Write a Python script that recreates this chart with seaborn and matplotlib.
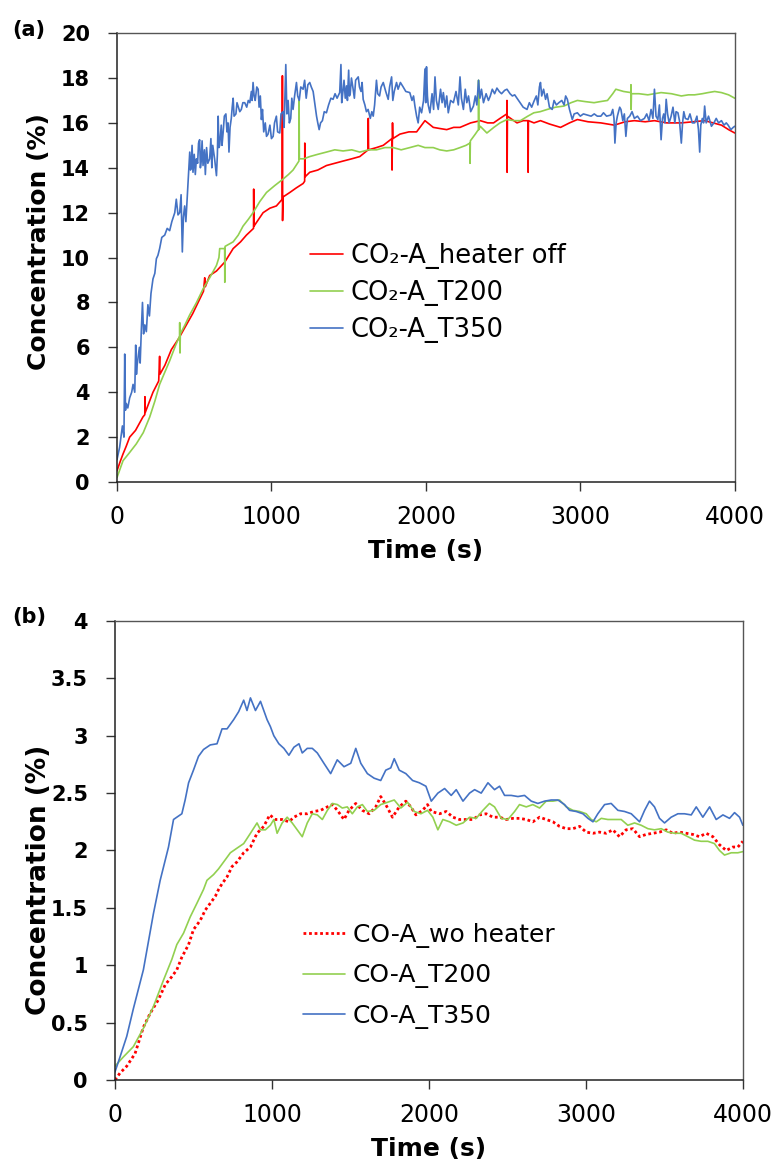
import numpy as np
import pandas as pd
import matplotlib
matplotlib.use("Agg")
import matplotlib.pyplot as plt
from matplotlib.ticker import FuncFormatter
import seaborn as sns

# ---- panel (a): CO2 concentration ----
co2_off_t = [0, 20, 39, 60, 82, 120, 168, 180, 181, 183, 233, 270, 276, 278, 310, 352, 400, 449, 490, 525,
             560, 568, 572, 600, 644, 698, 752, 800, 838, 884, 885, 887, 946, 990, 1032, 1070, 1071, 1072, 1075,
             1119, 1160, 1205, 1215, 1216, 1218, 1248, 1300, 1356, 1410, 1464, 1520, 1572, 1626, 1627, 1629,
             1680, 1724, 1780, 1781, 1783, 1784, 1786, 1832, 1890, 1940, 1994, 2048, 2090, 2135, 2180, 2221,
             2290, 2352, 2400, 2438, 2480, 2524, 2525, 2526, 2528, 2590, 2630, 2661, 2662, 2664, 2700, 2742,
             2800, 2872, 2930, 2981, 3050, 3133, 3220, 3290, 3350, 3420, 3480, 3560, 3654, 3730, 3805, 3860,
             3914, 3960, 4000]
co2_off_v = [0.5, 0.9, 1.25, 1.6, 2.0, 2.3, 2.9, 3.0, 3.8, 3.1, 4.0, 4.5, 5.6, 4.8, 5.2, 5.9, 6.4, 7.0, 7.5, 8.0,
             8.5, 9.1, 8.7, 9.2, 9.4, 9.8, 10.4, 10.7, 11.0, 11.3, 13.05, 11.4, 12.0, 12.2, 12.3, 12.6, 18.1, 11.65, 12.7,
             12.9, 13.1, 13.3, 13.4, 15.1, 13.6, 13.8, 13.9, 14.1, 14.2, 14.3, 14.4, 14.5, 14.8, 16.2, 14.8,
             14.9, 15.0, 15.3, 13.9, 15.3, 16.0, 15.3, 15.5, 15.6, 15.6, 16.1, 15.8, 15.75, 15.7, 15.8, 15.8,
             16.0, 16.1, 16.0, 16.0, 16.2, 16.4, 17.0, 13.8, 16.3, 16.0, 16.1, 16.1, 13.8, 16.1, 16.0, 16.1,
             15.95, 15.8, 16.0, 16.15, 16.05, 16.0, 15.9, 16.05, 16.1, 16.05, 16.1, 16.0, 16.0, 16.05, 16.1, 16.0,
             15.9, 15.7, 15.55]

co2_t200_t = [0, 39, 80, 125, 170, 212, 245, 276, 310, 341, 380, 405, 406, 408, 410, 440, 471, 515, 557, 600,
              644, 660, 665, 697, 698, 700, 752, 785, 816, 850, 881, 925, 968, 1020, 1076, 1110, 1140, 1178, 1179,
              1181, 1210, 1248, 1300, 1356, 1410, 1464, 1520, 1572, 1630, 1680, 1735, 1788, 1840, 1896, 1950,
              1994, 2048, 2090, 2135, 2180, 2221, 2260, 2285, 2286, 2288, 2320, 2340, 2341, 2343, 2352, 2395,
              2440, 2480, 2525, 2570, 2612, 2660, 2699, 2740, 2786, 2840, 2894, 2940, 2981, 3030, 3089, 3130,
              3176, 3210, 3230, 3280, 3327, 3328, 3329, 3331, 3380, 3437, 3480, 3523, 3590, 3654, 3700, 3740,
              3790, 3827, 3870, 3914, 3960, 4000]
co2_t200_v = [0.2, 0.95, 1.3, 1.7, 2.2, 2.9, 3.6, 4.35, 4.9, 5.4, 6.1, 6.5, 7.1, 5.75, 6.6, 7.0, 7.45, 8.0, 8.6, 9.1,
              9.65, 10.0, 10.4, 10.4, 8.9, 10.5, 10.7, 11.0, 11.4, 11.7, 12.0, 12.5, 12.9, 13.2, 13.5, 13.7, 13.9, 14.3, 17.0,
              14.4, 14.4, 14.5, 14.6, 14.7, 14.8, 14.75, 14.8, 14.7, 14.8, 14.8, 14.9, 14.9, 14.8, 14.9, 15.0,
              14.9, 14.9, 14.8, 14.75, 14.8, 14.9, 15.0, 15.1, 14.2, 15.2, 15.5, 15.7, 17.9, 15.7, 15.85, 15.55,
              15.8, 16.0, 16.15, 16.1, 16.1, 16.3, 16.45, 16.5, 16.6, 16.7, 16.75, 16.9, 17.0, 16.95, 16.9, 16.95,
              17.0, 17.3, 17.5, 17.4, 17.35, 17.7, 16.6, 17.3, 17.3, 17.25, 17.3, 17.35, 17.3, 17.2, 17.25, 17.25,
              17.3, 17.35, 17.4, 17.35, 17.25, 17.1]

# (time, value) pairs for the noisy T350 trace
co2_t350 = [
    (0, 1.0), (17, 1.55), (35, 2.5), (45, 2.0), (50, 5.7), (55, 3.2), (60, 3.5), (70, 3.3), (82, 3.75),
    (95, 4.0), (104, 4.35), (115, 4.0), (121, 6.1), (126, 4.8), (130, 5.2), (145, 6.0), (150, 5.3),
    (158, 6.85), (165, 8.0), (172, 6.6), (180, 7.0), (190, 6.7), (200, 7.9), (210, 7.4), (220, 8.4),
    (233, 9.05), (245, 9.3), (255, 9.95), (265, 10.1), (276, 10.4), (290, 10.9), (309, 11.0), (325, 11.3),
    (341, 11.2), (355, 11.6), (374, 12.0), (384, 12.6), (395, 11.9), (406, 12.0), (415, 12.8), (423, 10.25),
    (430, 11.8), (438, 12.3), (446, 11.6), (454, 12.6), (462, 13.6), (471, 14.7), (476, 13.9), (480, 14.0),
    (486, 15.0), (492, 13.8), (500, 14.6), (507, 13.7), (514, 14.4), (522, 14.2), (528, 15.1), (535, 15.25),
    (540, 14.0), (545, 14.3), (551, 15.2), (557, 14.1), (566, 14.8), (572, 13.7), (580, 14.9), (588, 14.2),
    (600, 14.4), (608, 15.3), (614, 14.0), (620, 15.0), (632, 14.4), (644, 13.65), (650, 14.6), (655, 16.3),
    (660, 14.9), (665, 15.0), (675, 15.9), (680, 15.0), (687, 15.55), (695, 16.3), (705, 16.4), (712, 15.6),
    (719, 16.0), (725, 14.7), (732, 15.8), (740, 16.2), (746, 16.7), (752, 17.1), (758, 16.3), (770, 16.4),
    (777, 16.9), (784, 16.75), (795, 16.5), (805, 16.6), (815, 16.9), (827, 16.9), (840, 16.7), (850, 17.0),
    (860, 16.9), (870, 17.4), (875, 17.0), (881, 17.8), (888, 17.2), (895, 17.0), (905, 17.6), (914, 17.5),
    (920, 16.7), (928, 17.2), (935, 16.15), (942, 16.6), (950, 15.6), (960, 16.0), (968, 15.4), (978, 15.5),
    (990, 15.9), (1000, 15.3), (1011, 15.4), (1020, 16.0), (1032, 16.3), (1040, 15.6), (1054, 15.55),
    (1062, 16.4), (1075, 16.5), (1082, 15.8), (1093, 18.6), (1100, 16.4), (1108, 17.0), (1116, 16.0),
    (1125, 16.2), (1132, 17.1), (1140, 16.6), (1150, 17.2), (1162, 17.8), (1170, 17.2), (1180, 17.0),
    (1190, 17.6), (1205, 17.5), (1215, 17.9), (1225, 17.1), (1236, 17.7), (1248, 17.8), (1258, 17.6),
    (1270, 17.4), (1280, 16.9), (1292, 16.3), (1300, 16.0), (1309, 15.7), (1318, 16.0), (1330, 16.1),
    (1342, 16.5), (1356, 16.45), (1370, 16.8), (1385, 17.1), (1399, 17.05), (1412, 17.3), (1425, 17.1),
    (1442, 17.35), (1450, 18.6), (1455, 16.9), (1460, 17.2), (1470, 17.9), (1478, 17.1), (1486, 17.65),
    (1492, 17.0), (1500, 18.35), (1505, 17.2), (1510, 17.3), (1518, 18.0), (1529, 17.5), (1537, 17.1),
    (1545, 17.9), (1562, 18.05), (1570, 17.6), (1580, 17.4), (1587, 17.8), (1594, 17.05), (1605, 16.8),
    (1615, 16.5), (1626, 16.6), (1640, 16.2), (1650, 16.5), (1659, 16.3), (1668, 16.8), (1680, 17.9),
    (1688, 17.3), (1700, 17.2), (1710, 17.6), (1724, 17.8), (1740, 17.4), (1756, 17.05), (1765, 17.6),
    (1778, 18.05), (1786, 17.0), (1795, 17.4), (1810, 17.8), (1820, 17.5), (1835, 17.8), (1853, 17.6),
    (1870, 17.4), (1896, 17.35), (1910, 17.0), (1920, 17.2), (1929, 16.75), (1940, 16.3), (1950, 16.0),
    (1960, 16.7), (1972, 16.45), (1985, 17.0), (1994, 18.4), (1999, 16.9), (2004, 18.5), (2010, 17.2),
    (2015, 16.8), (2026, 16.45), (2040, 17.3), (2050, 16.6), (2059, 18.05), (2068, 17.0), (2080, 16.6),
    (2095, 17.5), (2105, 16.9), (2113, 17.35), (2125, 16.7), (2135, 17.2), (2145, 16.45), (2160, 17.0),
    (2178, 16.9), (2195, 17.4), (2210, 16.8), (2221, 18.05), (2230, 17.1), (2243, 16.6), (2255, 17.5),
    (2265, 16.9), (2276, 17.2), (2290, 16.5), (2308, 16.75), (2320, 17.2), (2330, 16.8), (2341, 17.9),
    (2350, 17.1), (2360, 17.5), (2373, 16.9), (2390, 17.3), (2405, 17.0), (2417, 17.2), (2430, 17.5),
    (2445, 17.3), (2460, 17.55), (2475, 17.4), (2490, 17.3), (2510, 17.45), (2525, 17.5), (2545, 17.3),
    (2560, 17.2), (2575, 17.25), (2590, 17.1), (2610, 16.9), (2630, 16.7), (2655, 16.6), (2670, 16.9),
    (2685, 16.7), (2699, 16.95), (2715, 17.2), (2725, 16.8), (2735, 17.6), (2742, 17.8), (2750, 17.2),
    (2762, 17.5), (2775, 17.05), (2785, 17.3), (2800, 16.7), (2818, 16.6), (2830, 17.0), (2845, 16.8),
    (2861, 16.9), (2880, 17.0), (2895, 16.8), (2905, 17.2), (2916, 17.05), (2930, 16.6), (2948, 16.15),
    (2960, 16.4), (2981, 16.45), (3000, 16.3), (3020, 16.4), (3046, 16.35), (3070, 16.3), (3090, 16.4),
    (3110, 16.3), (3133, 16.3), (3150, 16.45), (3170, 16.3), (3198, 16.35), (3210, 16.6), (3218, 16.2),
    (3224, 15.1), (3232, 16.0), (3240, 16.3), (3255, 16.7), (3263, 16.6), (3275, 16.1), (3285, 16.4),
    (3295, 15.4), (3305, 16.2), (3320, 16.3), (3335, 16.5), (3350, 16.2), (3370, 16.3), (3390, 16.1),
    (3415, 16.2), (3430, 16.4), (3445, 16.1), (3458, 16.6), (3470, 16.2), (3480, 17.5), (3490, 16.3),
    (3502, 16.15), (3512, 16.8), (3523, 15.25), (3532, 16.2), (3540, 16.4), (3548, 16.0), (3556, 17.05),
    (3565, 16.4), (3575, 16.0), (3588, 16.3), (3600, 16.7), (3612, 16.0), (3620, 16.5), (3632, 16.45),
    (3642, 16.1), (3654, 15.1), (3662, 16.0), (3670, 16.5), (3680, 16.2), (3697, 16.15), (3710, 16.4),
    (3725, 16.0), (3740, 16.0), (3755, 16.3), (3765, 15.7), (3773, 14.7), (3780, 15.9), (3790, 16.2),
    (3798, 16.0), (3805, 16.75), (3815, 16.0), (3830, 16.3), (3849, 15.85), (3865, 16.0), (3880, 16.2),
    (3895, 16.0), (3914, 16.1), (3930, 15.9), (3945, 16.0), (3957, 15.9), (3975, 15.7), (3990, 15.8),
    (4000, 15.85),
]
co2_t350_t = [p[0] for p in co2_t350]
co2_t350_v = [p[1] for p in co2_t350]

# ---- panel (b): CO concentration ----
co_wo_t = [0, 32, 75, 128, 181, 224, 277, 320, 362, 394, 426, 469, 500, 543, 575, 607, 639, 660, 682, 714,
           746, 777, 820, 863, 905, 948, 986, 1022, 1065, 1108, 1140, 1182, 1225, 1267, 1310, 1353, 1385, 1417,
           1459, 1491, 1534, 1576, 1619, 1661, 1693, 1725, 1768, 1811, 1853, 1885, 1917, 1960, 1991, 2015, 2068,
           2110, 2153, 2195, 2238, 2280, 2323, 2365, 2408, 2450, 2493, 2535, 2577, 2620, 2662, 2705, 2747, 2790,
           2832, 2875, 2917, 2960, 3002, 3045, 3087, 3129, 3172, 3214, 3256, 3299, 3342, 3384, 3427, 3469, 3512,
           3554, 3596, 3639, 3681, 3724, 3766, 3809, 3851, 3894, 3936, 3968, 4000]
co_wo_v = [0.0, 0.06, 0.12, 0.23, 0.46, 0.58, 0.70, 0.83, 0.90, 0.96, 1.07, 1.18, 1.31, 1.39, 1.48, 1.54, 1.60, 1.66, 1.71, 1.77,
           1.86, 1.90, 1.98, 2.03, 2.15, 2.21, 2.31, 2.27, 2.27, 2.25, 2.29, 2.32, 2.32, 2.34, 2.35, 2.38, 2.40, 2.35,
           2.27, 2.35, 2.41, 2.35, 2.32, 2.38, 2.47, 2.40, 2.29, 2.38, 2.43, 2.38, 2.31, 2.35, 2.40, 2.34, 2.32,
           2.34, 2.29, 2.27, 2.27, 2.27, 2.31, 2.32, 2.29, 2.29, 2.27, 2.28, 2.28, 2.27, 2.25, 2.29, 2.27, 2.25,
           2.21, 2.19, 2.19, 2.21, 2.16, 2.15, 2.16, 2.15, 2.18, 2.12, 2.18, 2.19, 2.12, 2.14, 2.15, 2.16, 2.18,
           2.15, 2.16, 2.15, 2.14, 2.12, 2.15, 2.12, 2.05, 2.00, 2.03, 2.03, 2.08]

co_t200_t = [0, 53, 117, 181, 245, 309, 362, 394, 437, 479, 522, 564, 586, 628, 660, 703, 735, 777, 820, 863,
             905, 927, 958, 990, 1012, 1033, 1065, 1097, 1129, 1161, 1193, 1225, 1257, 1289, 1321, 1353, 1385,
             1417, 1448, 1480, 1512, 1544, 1576, 1608, 1651, 1693, 1736, 1779, 1821, 1864, 1906, 1949, 1991,
             2025, 2057, 2089, 2132, 2174, 2217, 2259, 2301, 2344, 2386, 2418, 2461, 2503, 2546, 2577, 2620,
             2662, 2705, 2747, 2790, 2832, 2875, 2917, 2960, 3002, 3034, 3066, 3098, 3140, 3183, 3225, 3267,
             3310, 3352, 3395, 3437, 3480, 3522, 3565, 3607, 3650, 3692, 3734, 3777, 3819, 3851, 3883, 3926,
             3968, 4000]
co_t200_v = [0.12, 0.20, 0.29, 0.45, 0.64, 0.87, 1.05, 1.18, 1.28, 1.42, 1.54, 1.66, 1.74, 1.79, 1.84, 1.92, 1.98, 2.02, 2.06, 2.15,
             2.24, 2.18, 2.18, 2.22, 2.27, 2.15, 2.24, 2.29, 2.24, 2.18, 2.12, 2.24, 2.32, 2.31, 2.27, 2.35, 2.41,
             2.40, 2.37, 2.38, 2.32, 2.38, 2.40, 2.34, 2.35, 2.40, 2.42, 2.44, 2.37, 2.42, 2.34, 2.32, 2.35,
             2.29, 2.18, 2.27, 2.25, 2.22, 2.24, 2.29, 2.28, 2.35, 2.41, 2.38, 2.28, 2.27, 2.34, 2.40, 2.38,
             2.40, 2.37, 2.43, 2.43, 2.44, 2.38, 2.35, 2.34, 2.32, 2.27, 2.25, 2.28, 2.27, 2.27, 2.27, 2.22,
             2.24, 2.22, 2.19, 2.18, 2.19, 2.16, 2.15, 2.15, 2.12, 2.09, 2.08, 2.08, 2.06, 2.00, 1.96, 1.98,
             1.98, 1.99]

co_t350_t = [0, 32, 75, 117, 181, 245, 288, 341, 373, 394, 426, 447, 469, 500, 532, 564, 607, 650, 682, 714,
             756, 788, 820, 841, 863, 895, 927, 948, 969, 990, 1012, 1044, 1076, 1108, 1140, 1172, 1193, 1225,
             1257, 1289, 1331, 1374, 1416, 1459, 1502, 1534, 1566, 1608, 1651, 1693, 1725, 1757, 1779, 1811,
             1853, 1896, 1939, 1981, 2015, 2057, 2100, 2142, 2174, 2217, 2259, 2291, 2333, 2376, 2418, 2450,
             2482, 2524, 2567, 2609, 2652, 2694, 2737, 2779, 2822, 2864, 2896, 2938, 2981, 3013, 3045, 3076,
             3119, 3161, 3204, 3246, 3289, 3342, 3374, 3405, 3437, 3469, 3501, 3543, 3586, 3628, 3671, 3703,
             3745, 3788, 3830, 3873, 3915, 3947, 3979, 4000]
co_t350_v = [0.07, 0.20, 0.38, 0.62, 0.96, 1.45, 1.74, 2.03, 2.27, 2.29, 2.32, 2.44, 2.59, 2.70, 2.82, 2.88, 2.92, 2.93, 3.06, 3.06,
             3.14, 3.21, 3.31, 3.22, 3.33, 3.22, 3.30, 3.22, 3.14, 3.08, 3.00, 2.93, 2.89, 2.83, 2.90, 2.93, 2.85, 2.89,
             2.89, 2.85, 2.76, 2.67, 2.79, 2.73, 2.76, 2.89, 2.76, 2.67, 2.63, 2.61, 2.70, 2.72, 2.80, 2.70,
             2.67, 2.61, 2.59, 2.56, 2.43, 2.50, 2.54, 2.48, 2.53, 2.43, 2.50, 2.53, 2.50, 2.59, 2.53, 2.56,
             2.48, 2.48, 2.47, 2.48, 2.43, 2.41, 2.43, 2.44, 2.44, 2.40, 2.35, 2.34, 2.32, 2.28, 2.25, 2.32,
             2.40, 2.41, 2.35, 2.34, 2.32, 2.25, 2.35, 2.43, 2.38, 2.28, 2.24, 2.29, 2.32, 2.32, 2.31, 2.38,
             2.29, 2.38, 2.27, 2.31, 2.28, 2.33, 2.29, 2.22]

RED = "#FF0000"
GREEN = "#92D050"
BLUE = "#4472C4"

sns.set_style("ticks")
plt.rcParams["font.family"] = ["DejaVu Sans"]
for key in ["text.color", "axes.labelcolor", "xtick.color", "ytick.color"]:
    plt.rcParams[key] = "black"

fig = plt.figure(figsize=(7.8, 11.66), dpi=100)
ax1 = fig.add_axes([0.150, 0.5866, 0.792, 0.385])
ax2 = fig.add_axes([0.1474, 0.0738, 0.805, 0.3936])

sns.lineplot(x=co2_off_t, y=co2_off_v, ax=ax1, color=RED, lw=1.2, label="CO\u2082-A_heater off", sort=False)
sns.lineplot(x=co2_t200_t, y=co2_t200_v, ax=ax1, color=GREEN, lw=1.2, label="CO\u2082-A_T200", sort=False)
sns.lineplot(x=co2_t350_t, y=co2_t350_v, ax=ax1, color=BLUE, lw=1.2, label="CO\u2082-A_T350", sort=False)

sns.lineplot(x=co_wo_t, y=co_wo_v, ax=ax2, color=RED, lw=2.0, linestyle=(0, (1, 1)),
             label="CO-A_wo heater", sort=False)
sns.lineplot(x=co_t200_t, y=co_t200_v, ax=ax2, color=GREEN, lw=1.2, label="CO-A_T200", sort=False)
sns.lineplot(x=co_t350_t, y=co_t350_v, ax=ax2, color=BLUE, lw=1.2, label="CO-A_T350", sort=False)

fmt = FuncFormatter(lambda v, p: "%g" % v)
panels = [(ax1, 20, 2, 18, (-0.107, 0.535)), (ax2, 4, 0.5, 19, (-0.100, 0.437))]
for ax, ymax, ystep, ylab_size, ylab_xy in panels:
    ax.set_xlim(0, 4000)
    ax.set_ylim(0, ymax)
    ax.set_xticks(np.arange(0, 4001, 1000))
    ax.set_yticks(np.arange(0, ymax + 0.001, ystep))
    ax.yaxis.set_major_formatter(fmt)
    ax.tick_params(axis="both", direction="out", length=6.5, width=1, color="#333333")
    ax.tick_params(axis="x", labelsize=17, pad=10)
    ax.tick_params(axis="y", labelsize=15, pad=13)
    for lab in ax.get_yticklabels():
        lab.set_fontweight("bold")
    for side in ["left", "bottom"]:
        ax.spines[side].set_color("#222222")
        ax.spines[side].set_linewidth(1.1)
    for side in ["top", "right"]:
        ax.spines[side].set_visible(True)
        ax.spines[side].set_color("#555555")
        ax.spines[side].set_linewidth(1.0)
    ax.set_xlabel("Time (s)", fontsize=18, fontweight="bold", labelpad=7)
    ax.set_ylabel("Concentration (%)", fontsize=ylab_size, fontweight="bold")
    ax.yaxis.set_label_coords(*ylab_xy)

ax1.legend(loc="center left", bbox_to_anchor=(0.312, 0.421), frameon=False, fontsize=18.5,
           handlelength=1.3, handletextpad=0.3, labelspacing=0.42, borderpad=0, borderaxespad=0)
ax2.legend(loc="center left", bbox_to_anchor=(0.299, 0.2266), frameon=False, fontsize=18,
           handlelength=1.7, handletextpad=0.3, labelspacing=0.62, borderpad=0, borderaxespad=0)

fig.text(0.016, 0.974, "(a)", fontsize=15, fontweight="bold", va="center", ha="left")
fig.text(0.016, 0.471, "(b)", fontsize=15, fontweight="bold", va="center", ha="left")

fig.savefig("out.png", dpi=100)
